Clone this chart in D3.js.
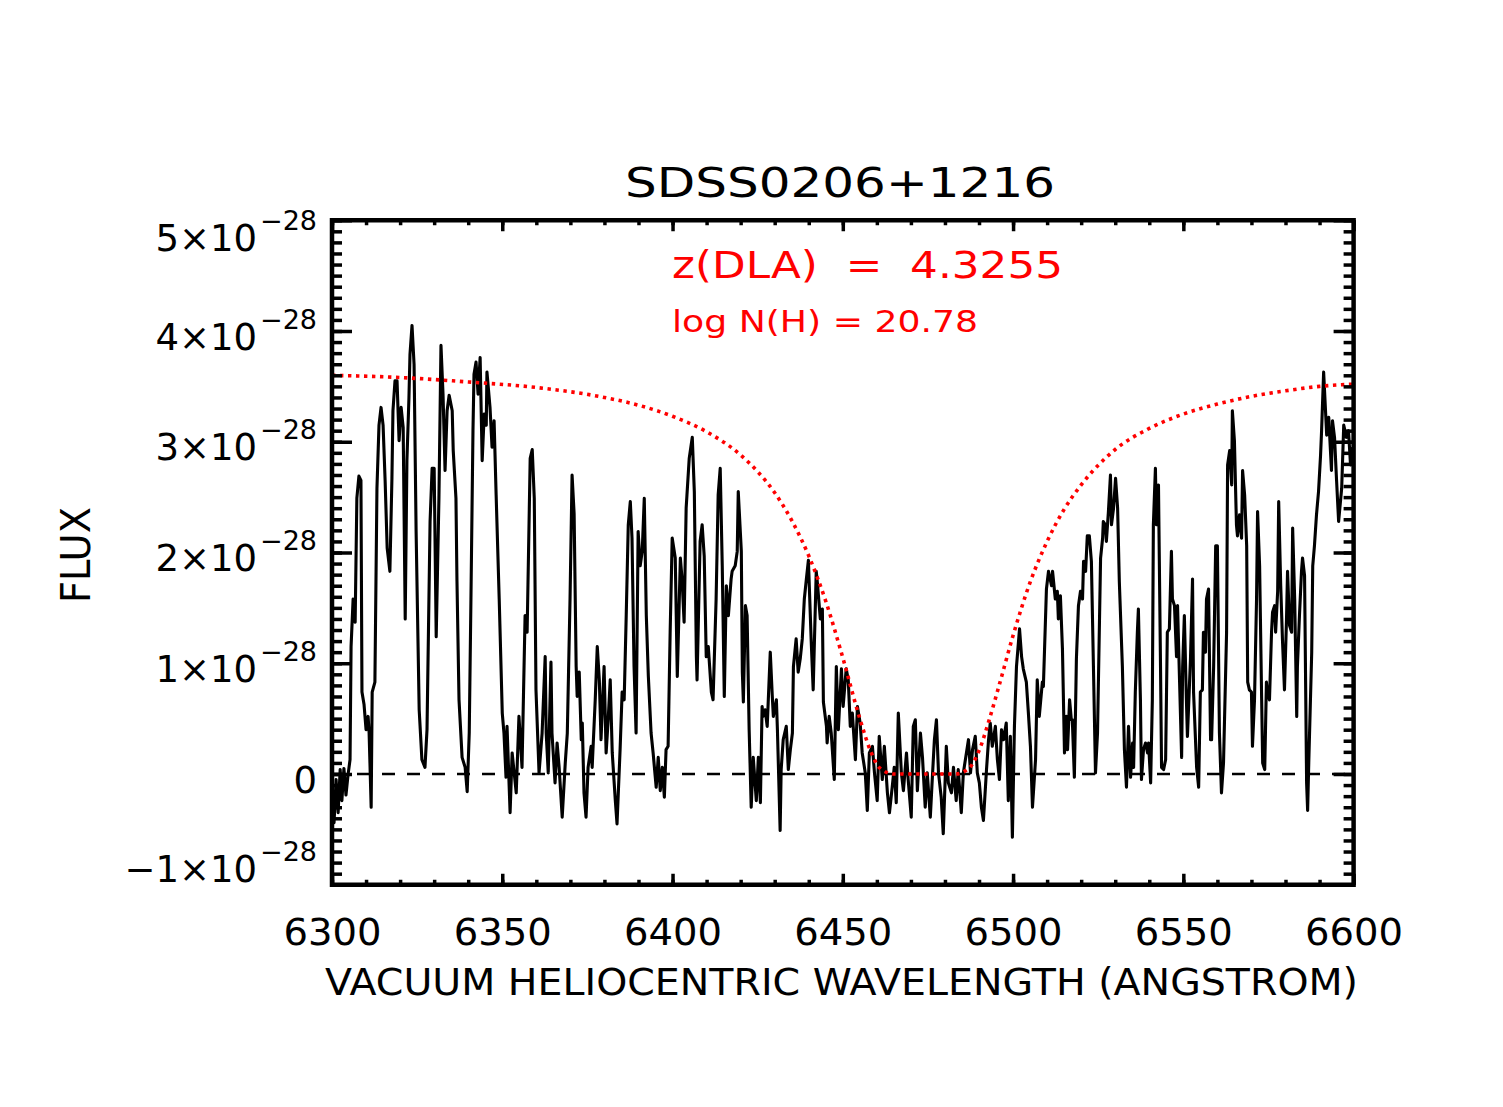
<!DOCTYPE html>
<html><head><meta charset="utf-8">
<script src="https://cdn.jsdelivr.net/npm/d3@7"></script>
<style>
body{margin:0;background:#fff}
text{font-family:"DejaVu Sans",Arial,sans-serif;fill:#000}
</style>
</head><body>
<svg id="chart" width="1503" height="1107"></svg>
<script>
// ---- data (flux in units of 1e-28) ----
const wavelength=[
6300.0,6300.6,6301.2,6301.8,6302.4,6302.9,6303.5,6304.1,6304.7,6305.3,
6305.6,6306.2,6306.8,6307.3,6307.9,6308.5,6308.8,6309.4,6310.0,6310.6,
6310.9,6311.5,6311.8,6312.6,6313.2,6313.8,6314.4,6315.0,6315.6,6316.2,
6317.0,6317.6,6317.9,6318.5,6319.1,6319.7,6320.3,6320.9,6321.5,6322.0,
6322.6,6322.9,6323.5,6324.1,6324.7,6325.6,6326.4,6327.3,6327.9,6328.8,
6329.4,6330.0,6330.6,6331.4,6332.0,6332.6,6333.2,6333.8,6334.4,6335.3,
6335.6,6336.4,6336.7,6337.3,6338.2,6339.1,6339.7,6340.3,6340.8,6341.4,
6341.7,6342.3,6342.9,6343.5,6344.1,6344.7,6345.3,6345.5,6346.4,6347.0,
6347.6,6348.2,6349.1,6350.0,6350.5,6351.1,6351.4,6352.3,6352.9,6353.5,
6354.1,6354.9,6355.8,6356.7,6357.3,6358.2,6358.8,6359.4,6359.9,6360.8,
6361.7,6362.6,6362.9,6363.5,6364.3,6364.6,6365.5,6366.1,6366.7,6367.6,
6368.5,6369.1,6369.9,6370.5,6371.1,6371.7,6372.0,6372.6,6373.2,6373.5,
6374.0,6374.6,6375.2,6376.1,6376.4,6377.3,6377.9,6378.5,6379.0,6379.9,
6380.5,6381.1,6381.7,6382.3,6383.2,6383.7,6384.6,6385.2,6385.8,6386.4,
6387.0,6387.6,6388.1,6388.7,6389.3,6389.9,6390.5,6391.1,6391.7,6392.3,
6392.9,6393.7,6394.3,6395.2,6395.8,6396.4,6397.0,6397.6,6398.1,6398.7,
6399.3,6399.9,6400.8,6401.4,6402.3,6402.8,6403.4,6404.0,6404.9,6405.8,
6406.4,6407.0,6407.2,6408.1,6408.7,6409.3,6409.9,6410.5,6411.4,6411.9,
6412.8,6413.4,6414.0,6414.6,6415.2,6415.8,6416.4,6417.2,6417.5,6418.4,
6419.0,6419.3,6420.2,6420.5,6420.8,6421.4,6421.9,6422.5,6423.1,6423.7,
6424.6,6425.2,6425.8,6426.3,6426.6,6427.2,6427.8,6428.7,6429.3,6429.6,
6430.5,6430.8,6431.6,6431.9,6432.5,6433.4,6434.0,6434.6,6435.2,6435.5,
6436.3,6436.9,6437.5,6438.1,6438.7,6439.3,6439.9,6440.7,6441.3,6442.2,
6442.5,6443.4,6444.0,6444.3,6445.2,6445.4,6446.0,6446.6,6447.5,6448.1,
6448.7,6449.6,6450.1,6451.0,6451.6,6452.2,6452.8,6453.7,6454.3,6455.1,
6455.7,6456.6,6457.2,6457.8,6458.7,6459.3,6460.1,6460.7,6461.6,6462.2,
6463.1,6463.7,6464.5,6465.1,6465.7,6466.3,6467.2,6467.8,6468.7,6469.2,
6470.1,6470.7,6471.3,6471.9,6472.8,6473.4,6474.2,6474.8,6475.7,6476.3,
6476.9,6477.5,6478.1,6478.9,6479.5,6480.4,6481.0,6481.9,6482.5,6483.3,
6483.9,6484.8,6485.4,6486.3,6486.9,6487.5,6488.1,6488.9,6489.5,6490.1,
6490.7,6491.3,6492.2,6492.8,6493.3,6493.9,6494.8,6495.4,6496.0,6496.6,
6497.2,6498.0,6498.6,6499.2,6499.8,6500.4,6501.0,6501.9,6502.5,6503.0,
6503.9,6504.5,6505.1,6505.7,6506.6,6507.1,6507.7,6508.6,6508.9,6509.8,
6510.4,6511.3,6511.6,6512.4,6513.0,6513.3,6513.9,6514.5,6515.1,6515.7,
6516.0,6516.6,6517.1,6517.4,6518.0,6518.6,6519.2,6519.8,6520.4,6520.7,
6521.3,6521.8,6522.4,6523.0,6523.6,6524.2,6524.8,6525.7,6526.3,6526.5,
6527.1,6527.4,6528.0,6528.6,6528.9,6529.5,6530.1,6530.7,6531.2,6532.1,
6532.7,6533.3,6533.9,6534.5,6535.1,6535.4,6535.9,6536.5,6536.8,6537.4,
6537.7,6538.3,6538.9,6539.5,6539.8,6540.4,6540.9,6541.2,6541.8,6542.1,
6542.7,6543.3,6543.6,6544.2,6544.8,6545.3,6545.9,6546.5,6546.8,6547.4,
6548.0,6548.3,6548.9,6549.5,6549.8,6550.3,6550.9,6551.2,6552.1,6552.7,
6553.0,6553.9,6554.5,6555.0,6555.6,6555.9,6556.5,6556.8,6557.4,6558.0,
6558.3,6558.9,6559.5,6560.0,6560.6,6561.2,6561.8,6562.7,6563.0,6563.6,
6564.2,6564.4,6565.0,6565.6,6565.9,6566.5,6567.1,6567.4,6568.0,6568.6,
6568.9,6569.4,6570.0,6570.3,6570.9,6571.5,6571.8,6572.4,6573.0,6573.3,
6573.9,6574.4,6574.7,6575.3,6575.9,6576.2,6576.8,6577.1,6577.7,6578.0,
6578.6,6579.1,6579.7,6580.3,6580.6,6581.2,6581.8,6582.1,6582.7,6583.3,
6583.5,6584.1,6584.7,6585.0,6585.6,6586.2,6586.5,6586.8,6587.7,6588.0,
6588.5,6589.1,6589.7,6590.3,6590.6,6591.2,6592.1,6592.7,6593.5,6593.8,
6594.4,6595.0,6595.6,6596.5,6597.1,6597.9,6598.5,6599.1,6599.7];
const flux=[
-0.15,-0.44,-0.05,-0.35,0.04,-0.24,0.05,-0.19,-0.01,0.13,
1.15,1.58,1.37,2.49,2.69,2.65,0.74,0.63,0.40,0.52,
0.37,-0.30,0.74,0.83,2.58,3.15,3.31,3.15,2.65,2.04,
1.83,2.67,3.28,3.55,3.55,3.01,3.31,3.13,1.40,2.83,
3.40,3.79,4.05,3.70,2.19,0.58,0.13,0.06,0.40,2.28,
2.76,2.76,1.24,2.49,3.87,3.43,2.74,3.28,3.42,3.28,
2.92,2.49,1.74,0.67,0.15,0.06,-0.16,0.37,1.58,3.10,
3.61,3.72,3.43,3.76,2.83,3.25,3.15,3.63,3.31,2.95,
3.19,2.52,1.58,0.55,0.37,-0.03,0.43,-0.35,0.19,0.01,
-0.17,0.52,0.06,1.43,1.28,2.85,2.93,2.49,0.76,0.01,
0.37,1.06,0.37,0.01,1.01,0.37,-0.08,0.28,0.06,-0.39,
0.10,0.37,1.58,2.70,2.35,0.97,0.70,0.92,0.31,0.46,
-0.17,-0.39,0.06,0.25,0.06,0.67,1.15,0.85,0.31,0.97,
0.19,0.49,0.85,0.19,-0.24,-0.45,0.22,0.74,0.67,1.43,
2.25,2.46,2.13,0.97,0.37,2.19,1.88,2.01,2.49,1.43,
0.88,0.37,0.19,-0.12,0.15,-0.15,0.06,-0.21,0.22,0.25,
1.28,2.13,1.95,0.88,1.95,1.76,1.37,2.40,2.85,3.04,
2.55,1.06,0.85,2.10,2.25,1.97,1.06,1.15,0.74,0.67,
1.58,2.52,2.76,1.88,0.70,1.70,1.43,1.76,1.83,1.88,
2.01,2.55,2.01,0.92,0.65,1.52,1.43,0.40,-0.30,0.15,
-0.24,0.15,-0.26,0.61,0.52,0.58,0.43,1.10,0.70,0.52,
0.67,0.40,-0.51,0.04,0.31,0.43,0.04,0.22,0.37,0.97,
1.22,0.92,1.04,1.22,1.58,1.76,1.93,1.22,0.76,1.83,
1.74,1.40,1.49,0.65,0.43,0.28,0.52,0.37,-0.05,0.97,
0.40,0.95,0.61,0.95,0.85,0.43,0.55,0.13,0.61,0.46,
0.19,0.01,-0.33,0.19,0.25,0.01,-0.24,0.34,-0.05,0.25,
-0.17,-0.35,-0.12,0.06,-0.26,0.55,0.01,-0.15,0.19,-0.05,
-0.39,0.43,0.49,-0.15,0.37,0.15,-0.30,0.01,-0.39,-0.03,
0.31,0.49,0.01,-0.21,-0.54,0.25,-0.08,-0.17,0.06,-0.24,
0.04,-0.35,0.01,0.19,0.31,0.01,0.22,0.34,0.01,-0.08,
-0.30,-0.42,0.04,0.31,0.46,0.25,0.43,0.13,-0.05,0.40,
0.31,0.46,-0.24,0.34,-0.57,0.43,0.97,1.31,1.06,0.95,
0.83,0.55,0.25,-0.30,0.13,0.85,0.52,0.83,0.79,1.67,
1.83,1.70,1.83,1.58,1.65,1.40,1.61,1.13,0.19,0.52,
0.22,0.67,0.49,0.49,-0.03,1.04,1.52,1.65,1.58,1.92,
1.83,2.15,2.15,1.92,0.97,0.01,0.37,1.95,2.13,2.28,
2.25,2.10,2.37,2.70,2.25,2.40,2.67,2.40,1.74,0.97,
0.22,-0.12,0.43,-0.03,0.28,0.06,0.74,1.28,1.49,0.67,
-0.05,0.22,0.28,0.19,0.28,-0.08,0.67,2.25,2.76,2.25,
2.61,0.97,0.06,0.04,0.13,1.28,1.31,2.01,1.58,1.52,
1.06,1.52,0.83,0.15,0.97,1.43,0.67,0.34,1.04,1.76,
0.74,0.06,-0.12,0.74,0.76,1.28,1.10,1.58,1.67,0.31,
0.31,0.97,2.06,2.06,0.37,-0.17,0.10,1.28,2.79,2.92,
2.61,3.28,3.01,2.25,2.15,2.34,2.13,2.74,2.52,2.06,
0.83,0.76,0.74,0.25,0.67,1.58,2.37,1.88,0.67,0.10,
0.04,0.83,0.74,0.67,1.28,1.46,1.52,1.28,1.65,2.46,
1.70,1.22,0.76,1.40,1.83,1.34,1.28,2.22,1.58,0.52,
0.97,1.43,1.83,1.95,1.79,-0.08,-0.33,0.06,1.10,1.88,
2.06,2.34,2.55,2.88,3.10,3.63,3.06,3.22,2.74,3.19,
3.04,2.65,2.28,2.58,3.15,3.04,3.10,2.79,2.95];

// DLA model profile
const modelWave=[6300,6320,6340,6360,6380,6390,6400,6410,6420,6425,6430,6435,6440,6445,6450,6455,6458,6461,6465,6483,6487,6490,6493,6496,6500,6505,6510,6515,6520,6530,6540,6550,6560,6570,6580,6590,6600];
const modelFlux=[3.60,3.58,3.54,3.49,3.40,3.33,3.23,3.09,2.88,2.73,2.54,2.29,1.97,1.56,1.05,0.50,0.22,0.05,0.00,0.00,0.05,0.21,0.49,0.81,1.25,1.73,2.10,2.39,2.61,2.93,3.12,3.25,3.34,3.41,3.46,3.50,3.52];

const xTicks=[6300,6350,6400,6450,6500,6550,6600];
const xTickLabels=["6300","6350","6400","6450","6500","6550","6600"];
const yTicks=[-1,0,1,2,3,4,5];
const yTickMantissa=["\u22121\u00d710","0","1\u00d710","2\u00d710","3\u00d710","4\u00d710","5\u00d710"];
const yTickExponent=["\u221228","","\u221228","\u221228","\u221228","\u221228","\u221228"];
const titleText="SDSS0206+1216";
const xTitle="VACUUM HELIOCENTRIC WAVELENGTH (ANGSTROM)";
const yTitle="FLUX";
const note1="z(DLA)  =  4.3255";
const note2="log N(H) = 20.78";

// ---- scales ----
const L=332,R=1353.6,T=220.25,B=884.75;
const x=d3.scaleLinear().domain([6300,6600]).range([L,R]);
const y=d3.scaleLinear().domain([-1,5]).range([B,T]);
const svg=d3.select("#chart");

svg.append("defs").append("clipPath").attr("id","clip")
  .append("rect").attr("x",L).attr("y",T).attr("width",R-L).attr("height",B-T);

// zero line
svg.append("line").attr("x1",x(6300)).attr("x2",x(6600)).attr("y1",y(0)).attr("y2",y(0))
  .attr("stroke","#000").attr("stroke-width",2.6).attr("stroke-dasharray","13,12");

// spectrum
const pts=wavelength.map((w,i)=>[w,flux[i]]);
svg.append("path").datum(pts).attr("clip-path","url(#clip)")
  .attr("d",d3.line().x(d=>x(d[0])).y(d=>y(d[1])))
  .attr("fill","none").attr("stroke","#000").attr("stroke-width",3.1)
  .attr("stroke-linejoin","round");

// model
const mpts=modelWave.map((w,i)=>[w,modelFlux[i]]);
svg.append("path").datum(mpts)
  .attr("d",d3.line().curve(d3.curveMonotoneX).x(d=>x(d[0])).y(d=>y(d[1])))
  .attr("fill","none").attr("stroke","#ff0000").attr("stroke-width",3.6)
  .attr("stroke-dasharray","3.4,4.6");

// ---- axes ----
function styleAxis(g,w){g.select(".domain").remove();g.selectAll("line").attr("stroke","#000").attr("stroke-width",w);}
// minor ticks
svg.append("g").attr("transform",`translate(0,${B})`).call(d3.axisBottom(x).ticks(30).tickSize(-5).tickFormat("")).call(g=>styleAxis(g,3.5));
svg.append("g").attr("transform",`translate(0,${T})`).call(d3.axisTop(x).ticks(30).tickSize(-5).tickFormat("")).call(g=>styleAxis(g,3.5));
svg.append("g").attr("transform",`translate(${L},0)`).call(d3.axisLeft(y).ticks(60).tickSize(-10).tickFormat("")).call(g=>styleAxis(g,3.5));
svg.append("g").attr("transform",`translate(${R},0)`).call(d3.axisRight(y).ticks(60).tickSize(-10).tickFormat("")).call(g=>styleAxis(g,3.5));
// major ticks
const xb=svg.append("g").attr("transform",`translate(0,${B})`)
  .call(d3.axisBottom(x).tickValues(xTicks).tickSize(-11).tickFormat((d,i)=>xTickLabels[i])).call(g=>styleAxis(g,3.5));
xb.selectAll("text").attr("y",60).attr("dy",null).attr("font-size",37)
  .attr("textLength",98).attr("lengthAdjust","spacingAndGlyphs").attr("font-family","DejaVu Sans");
svg.append("g").attr("transform",`translate(0,${T})`).call(d3.axisTop(x).tickValues(xTicks).tickSize(-11).tickFormat("")).call(g=>styleAxis(g,3.5));
const yl=svg.append("g").attr("transform",`translate(${L},0)`)
  .call(d3.axisLeft(y).tickValues(yTicks).tickSize(-20).tickPadding(15).tickFormat("")).call(g=>styleAxis(g,3.5));
svg.append("g").attr("transform",`translate(${R},0)`).call(d3.axisRight(y).tickValues(yTicks).tickSize(-20).tickFormat("")).call(g=>styleAxis(g,3.5));

yl.selectAll(".tick text").each(function(d,i){
  const t=d3.select(this).attr("dy",null).attr("font-size",37).attr("font-family","DejaVu Sans")
    .attr("x",-15).attr("y",i===yTicks.length-1?30:(i===0?-3:18)).text(null);
  t.append("tspan").text(yTickMantissa[i]);
  if(yTickExponent[i]) t.append("tspan").attr("dx",3).attr("dy",-21).attr("font-size",27).text(yTickExponent[i]);
});

// frame
svg.append("rect").attr("x",L).attr("y",T).attr("width",R-L).attr("height",B-T)
  .attr("fill","none").attr("stroke","#000").attr("stroke-width",4.5);

// ---- texts ----
svg.append("text").attr("x",840).attr("y",197).attr("text-anchor","middle").attr("font-size",41)
  .attr("textLength",430).attr("lengthAdjust","spacingAndGlyphs").text(titleText);
svg.append("text").attr("x",841.5).attr("y",995).attr("text-anchor","middle").attr("font-size",37)
  .attr("textLength",1033).attr("lengthAdjust","spacingAndGlyphs").text(xTitle);
svg.append("text").attr("transform","translate(90,555) rotate(-90)").attr("text-anchor","middle")
  .attr("font-size",40).attr("textLength",96).attr("lengthAdjust","spacingAndGlyphs").text(yTitle);
svg.append("text").attr("x",672).attr("y",278).attr("font-size",37).style("fill","#ff0000")
  .style("white-space","pre")
  .attr("textLength",391).attr("lengthAdjust","spacingAndGlyphs").text(note1);
svg.append("text").attr("x",672).attr("y",332).attr("font-size",31).style("fill","#ff0000")
  .attr("textLength",306).attr("lengthAdjust","spacingAndGlyphs").text(note2);
</script>
</body></html>
